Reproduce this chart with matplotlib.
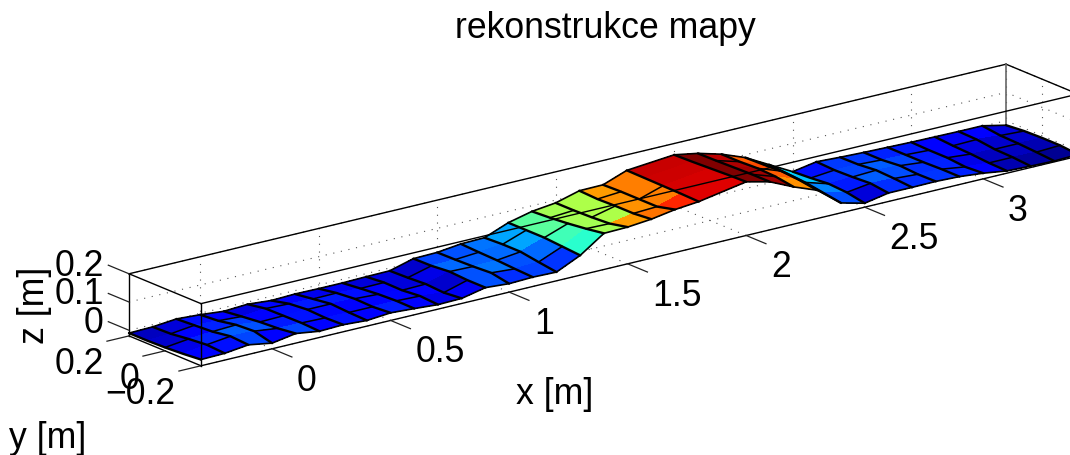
import numpy as np
import matplotlib
matplotlib.use("Agg")
import matplotlib.pyplot as plt
from mpl_toolkits.mplot3d import Axes3D, proj3d  # noqa

plt.rcParams['font.family'] = ['Liberation Sans', 'DejaVu Sans']

W, H = 1070, 456
x_nodes = [-.3,-.2,-.1,0,.1,.2,.3,.4,.5,.6,.7,.8,.9,1.0,1.1,1.2,1.3,1.4,1.5,1.6,1.7,1.8,2.0,2.1,2.2,2.3,2.4,2.5,2.6,2.7,2.8,2.9,3.0,3.1,3.2,3.3,3.4]
y_nodes = [-.2,-.1,0,.1,.2]
# surface height, mm
z_front = [2,4,14,0,14,2,5,0,7,2,-4,-2,16,10,13,11,50,108,110,118,132,140,170,150,112,80,15,-6,10,10,11,8,0,-12,-15,-17,-14]
z_row2  = [-4,8,18,16,6,5,3,2,2,3,0,-8,16,22,16,20,55,98,96,112,116,142,168,150,122,90,25,6,18,15,10,8,-4,-10,-10,-12,-8]
z_row3  = [-8,2,8,12,2,4,6,6,4,0,-6,-4,20,18,20,30,60,90,92,112,116,143,165,148,125,95,35,10,14,18,14,6,2,-5,-8,-8,-8]
z_row4  = [-10,-6,4,0,-5,3,0,-3,-2,-6,-5,-8,14,16,22,30,60,84,90,110,116,144,162,146,122,92,40,4,12,12,8,6,2,-2,0,-6,-10]
z_back  = [-10,-8,0,-5,-13,-8,-15,-12,-13,-13,-11,-10,13,15,25,27,60,80,90,113,114,145,160,145,122,90,45,0,15,11,8,6,4,3,2,2,-16]
# colour level of the cells that start at x = 1.4, 1.5 and 2.3, mm
level_x14 = [76, 76, 76, 76, 76]
level_x15 = [110, 78, 78, 78, 78]
level_x23 = [96, 96, 108, 108, 108]

x_lim = (-0.3, 3.4)
y_lim = (-0.2, 0.2)
z_lim = (-0.02, 0.2)
x_ticks = [0, .5, 1, 1.5, 2, 2.5, 3]
x_labels = ['0', '0.5', '1', '1.5', '2', '2.5', '3']
y_ticks = [-.2, 0, .2]
y_labels = ['\u22120.2', '0', '0.2']
z_ticks = [0, .1, .2]
z_labels = ['0', '0.1', '0.2']

X, Y = np.meshgrid(x_nodes, y_nodes)
Z = np.array([z_front, z_row2, z_row3, z_row4, z_back], float) / 1000
C = Z.copy()
C[:, x_nodes.index(1.4)] = np.array(level_x14) / 1000
C[:, x_nodes.index(1.5)] = np.array(level_x15) / 1000
C[:, x_nodes.index(2.3)] = np.array(level_x23) / 1000

fig = plt.figure(figsize=(W/100, H/100), dpi=100, facecolor='white')
S = 1077
cx, cy = 603.5, 456 - 216
ax = fig.add_axes([(cx - .5135*S)/W, (cy - .5135*S)/H, S/W, S/H], projection='3d')
ax.set_proj_type('ortho')
ax.view_init(elev=18.35, azim=-127.2)
ax.set_box_aspect((x_lim[1]-x_lim[0], y_lim[1]-y_lim[0], z_lim[1]-z_lim[0]))
ax.computed_zorder = False
ax.patch.set_alpha(0)

colors = plt.cm.jet(np.clip((C + 0.02) / 0.175, 0, 1))
surf = ax.plot_surface(X, Y, Z, facecolors=colors, rstride=1, cstride=1, shade=False,
                       linewidth=0, antialiased=False, zorder=2)

# mesh: heavy lines across the strip, lighter staggered lines along it
for i in range(len(x_nodes)):
    ax.plot(X[:, i], Y[:, i], Z[:, i], color='black', lw=1.7, zorder=2.5, solid_capstyle='round')
for j in range(len(y_nodes)):
    if j in (0, len(y_nodes) - 1):
        ax.plot(X[j], Y[j], Z[j], color='black', lw=1.2, zorder=2.5)
        continue
    for i in range(len(x_nodes) - 1):
        if (i + j) % 2 == 0 and not (1.75 < x_nodes[i] < 2.05):
            ax.plot(X[j, i:i+2], Y[j, i:i+2], Z[j, i:i+2], color='black', lw=1.1, zorder=2.5)

ax.set_xlim(x_lim); ax.set_ylim(y_lim); ax.set_zlim(z_lim)
ax.set_xticks([]); ax.set_yticks([]); ax.set_zticks([])
ax.set_axis_off()

x0, x1 = x_lim; y0, y1 = y_lim; z0, z1 = z_lim

# dotted grid on the two back walls and the floor
grid_kw = dict(color='#555555', lw=0.8, linestyle=(0, (1, 6)), zorder=1)
for t in x_ticks:
    ax.plot((t, t), (y1, y1), (z0, z1), **grid_kw)
    ax.plot((t, t), (y0, y1), (z0, z0), **grid_kw)
for t in y_ticks:
    ax.plot((x1, x1), (t, t), (z0, z1), **grid_kw)
    ax.plot((x0, x1), (t, t), (z0, z0), **grid_kw)
for t in z_ticks:
    ax.plot((x0, x1), (y1, y1), (t, t), **grid_kw)
    ax.plot((x1, x1), (y0, y1), (t, t), **grid_kw)

edges = [((x0, x1), (y0, y0), (z0, z0), 1), ((x0, x0), (y0, y1), (z0, z0), 1),
         ((x0, x0), (y1, y1), (z0, z1), 1), ((x0, x0), (y0, y0), (z0, z1), 3),
         ((x0, x0), (y0, y1), (z1, z1), 1), ((x0, x1), (y1, y1), (z1, z1), 1),
         ((x0, x1), (y0, y0), (z1, z1), 3), ((x1, x1), (y0, y1), (z1, z1), 1)]
for ex, ey, ez, zo in edges:
    ax.plot(ex, ey, ez, color='black', lw=1.0, zorder=zo)
ax.plot((x1, x1), (y1, y1), (z0, z1), color='#666666', lw=1.2, zorder=1)

fs = 25.7
tick_kw = dict(color='#222222', lw=0.9, zorder=1)
M = ax.get_proj()


def label3d(xv, yv, zv, s, **kw):
    px, py, _ = proj3d.proj_transform(xv, yv, zv, M)
    ax.text2D(px, py, s, transform=ax.transData, va='center', fontsize=fs, **kw)


for t, lab in zip(x_ticks, x_labels):
    ax.plot((t, t), (y0, y0 - .11), (z0, z0), **tick_kw)
    label3d(t, y0 - .138, z0 - .075, lab, ha='left')
for t, lab in zip(y_ticks, y_labels):
    ax.plot((x0, x0 - .093), (t, t), (z0, z0), **tick_kw)
    label3d(x0 - .106, t, z0 - .076, lab, ha='right')
for t, lab in zip(z_ticks, z_labels):
    ax.plot((x0, x0), (y1, y1 + .115), (t, t), **tick_kw)
    label3d(x0, y1 + .14, t - .008, lab, ha='right')

fig.text(605/W, 1-29/H, 'rekonstrukce mapy', ha='center', va='center', fontsize=fs)
fig.text(555/W, 1-394.5/H, 'x [m]', ha='center', va='center', fontsize=fs)
fig.text(48/W, 1-438.5/H, 'y [m]', ha='center', va='center', fontsize=fs)
fig.text(35/W, 1-305/H, 'z [m]', ha='center', va='center', rotation=90, fontsize=fs)
fig.savefig('out.png', dpi=100)
